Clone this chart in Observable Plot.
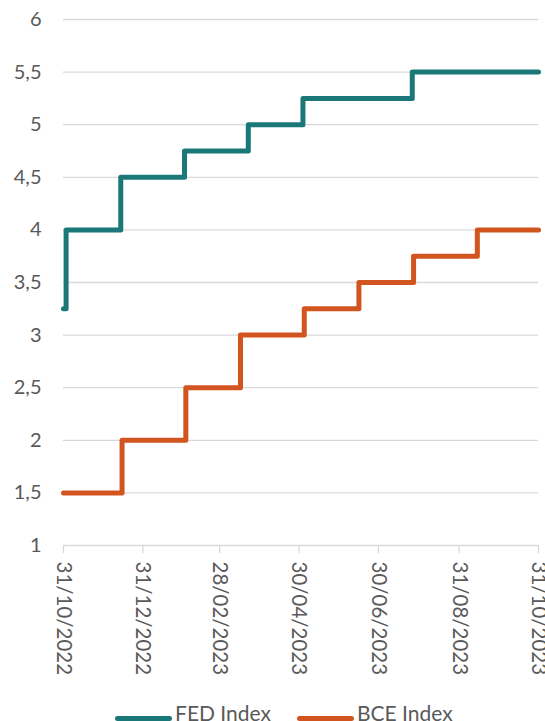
<!DOCTYPE html>
<html>
<head>
<meta charset="utf-8">
<script src="https://cdn.jsdelivr.net/npm/d3@7"></script>
<script src="https://cdn.jsdelivr.net/npm/@observablehq/plot@0.6"></script>
<style>
  html, body { margin: 0; padding: 0; background: #fff; overflow: hidden; }
  #legend { position: relative; height: 40px; font-family: Lato, "Open Sans", sans-serif; font-size: 21px; color: #595959; }
  .sw { position: absolute; height: 5px; border-radius: 3px; top: 16px; }
  .lb { position: absolute; top: 2px; line-height: 21px; }
</style>
</head>
<body>
<div id="chart"></div>
<div id="legend">
  <div class="sw" style="left:115px;width:57px;background:#1A7878"></div>
  <div class="lb" style="left:175px">FED Index</div>
  <div class="sw" style="left:297px;width:57px;background:#D2541F"></div>
  <div class="lb" style="left:357px">BCE Index</div>
</div>
<script>
const fedDates = ["2022-10-31", "2022-11-02", "2022-12-14", "2023-02-01", "2023-03-22", "2023-05-03", "2023-07-26", "2023-10-31"];
const fedValues = [3.25, 4.0, 4.5, 4.75, 5.0, 5.25, 5.5, 5.5];
const bceDates = ["2022-10-31", "2022-12-15", "2023-02-02", "2023-03-16", "2023-05-04", "2023-06-15", "2023-07-27", "2023-09-14", "2023-10-31"];
const bceValues = [1.5, 2.0, 2.5, 3.0, 3.25, 3.5, 3.75, 4.0, 4.0];
const xTicks = ["2022-10-31", "2022-12-31", "2023-02-28", "2023-04-30", "2023-06-30", "2023-08-31", "2023-10-31"];
const yTicks = [1, 1.5, 2, 2.5, 3, 3.5, 4, 4.5, 5, 5.5, 6];

const parse = d3.utcParse("%Y-%m-%d");
const fed = fedDates.map((d, i) => ({date: parse(d), value: fedValues[i]}));
const bce = bceDates.map((d, i) => ({date: parse(d), value: bceValues[i]}));
const fmt = d3.utcFormat("%d/%m/%Y");

const chart = Plot.plot({
  width: 545,
  height: 700,
  marginTop: 19,
  marginBottom: 155,
  marginLeft: 63,
  marginRight: 7,
  style: {fontFamily: "Lato, 'Open Sans', sans-serif", fontSize: "20px", color: "#595959", background: "#fff"},
  x: {type: "utc", domain: [parse(xTicks[0]), parse(xTicks[xTicks.length - 1])]},
  y: {domain: [1, 6]},
  marks: [
    Plot.ruleY(yTicks.slice(1), {stroke: "#d9d9d9", strokeWidth: 1.3}),
    Plot.ruleY([1], {stroke: "#d9d9d9", strokeWidth: 1.3}),
    Plot.axisY({ticks: yTicks, tickSize: 0, tickPadding: 22, tickFormat: d => String(d).replace(".", ","), fontSize: 20, fill: "#595959", label: null}),
    Plot.axisX({ticks: xTicks.map(parse), tickSize: 8, tickPadding: 8, tickRotate: 90, tickFormat: fmt, fontSize: 20.5, fill: "#595959", stroke: "#d9d9d9", strokeWidth: 1.3, label: null}),
    Plot.line(fed, {x: "date", y: "value", curve: "step-after", stroke: "#1A7878", strokeWidth: 5, strokeLinejoin: "round", strokeLinecap: "round"}),
    Plot.line(bce, {x: "date", y: "value", curve: "step-after", stroke: "#D2541F", strokeWidth: 5, strokeLinejoin: "round", strokeLinecap: "round"})
  ]
});
document.getElementById("chart").appendChild(chart);
</script>
</body>
</html>
